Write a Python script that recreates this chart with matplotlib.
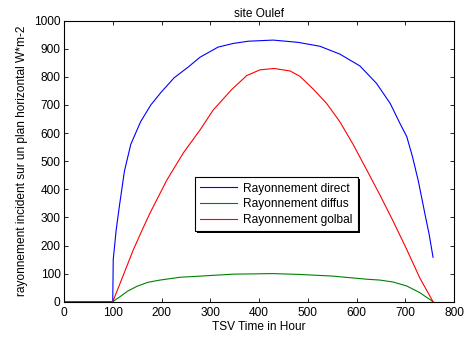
import matplotlib
matplotlib.use("Agg")
import matplotlib.pyplot as plt
from matplotlib.patches import Rectangle
from matplotlib.transforms import IdentityTransform

plt.rcParams['font.family'] = ['Liberation Sans', 'DejaVu Sans']

# Hourly radiation curves (TSV time vs W*m-2)
t_direct = [0, 100, 101, 107, 114, 124, 137, 157, 178, 199, 226, 254, 279, 316,
            347, 378, 429, 480, 525, 566, 607, 641, 669, 689, 703, 715, 727,
            741, 749, 757]
direct = [0, 0, 150, 255, 345, 465, 560, 640, 700, 745, 797, 834, 870, 906,
          919, 927, 931, 923, 909, 881, 839, 777, 706, 635, 588, 515, 428,
          307, 240, 158]

t_diffus = [0, 100, 115, 131, 150, 172, 197, 238, 279, 347, 429, 484, 552, 621,
            648, 675, 703, 730, 757]
diffus = [0, 0, 18, 38, 55, 69, 77, 87, 91, 98, 100, 97, 91, 80, 77, 70, 56,
          32, 0]

t_global = [0, 100, 115, 142, 159, 176, 211, 245, 279, 306, 344, 375, 402, 431,
            464, 484, 511, 539, 566, 593, 621, 648, 675, 703, 730, 757]
globale = [0, 0, 65, 184, 250, 314, 433, 530, 611, 682, 755, 805, 825, 830,
           821, 802, 757, 705, 640, 560, 469, 380, 287, 186, 84, 0]

series_labels = ['Rayonnement direct', 'Rayonnement diffus', 'Rayonnement golbal']
x_ticks = list(range(0, 801, 100))
y_ticks = list(range(0, 1001, 100))

fs = 8.6
fig = plt.figure(figsize=(4.67, 3.38), dpi=100)
ax = fig.add_axes([64 / 467, 1 - 301.7 / 338, 390 / 467, 281 / 338])

lw = 0.8
ax.plot(t_direct, direct, color=(0, 0, 1), lw=lw, label=series_labels[0])
ax.plot(t_diffus, diffus, color=(0, 0.5, 0), lw=lw, label=series_labels[1])
ax.plot(t_global, globale, color=(1, 0, 0), lw=lw, label=series_labels[2])

ax.set_xlim(0, 800)
ax.set_ylim(0, 1000)
ax.set_xticks(x_ticks)
ax.set_yticks(y_ticks)
ax.tick_params(direction='in', top=True, right=True, labelsize=fs, length=3,
               width=0.6)
ax.tick_params(axis='x', pad=3.5)
ax.tick_params(axis='y', pad=2.5)
for s in ax.spines.values():
    s.set_linewidth(0.8)

ax.set_title('site Oulef', fontsize=fs, pad=3)
ax.set_xlabel('TSV Time in Hour', fontsize=fs, labelpad=2)
ax.set_ylabel('rayonnement incident sur un plan horizontal W*m-2', fontsize=fs,
              labelpad=4)

leg = ax.legend(loc='upper left', bbox_to_anchor=(0.336, 0.443), borderaxespad=0,
                fontsize=fs, frameon=True, fancybox=False, shadow=False,
                handlelength=3.1, handletextpad=0.5, labelspacing=0.3,
                borderpad=0.45)
leg.get_frame().set_edgecolor('black')
leg.get_frame().set_linewidth(0.8)
leg.get_frame().set_alpha(1)

# thin drop shadow under the legend box
fig.canvas.draw()
bb = leg.get_window_extent()
ax.add_patch(Rectangle((bb.x0 + 1.5, bb.y0 - 1.5), bb.width, bb.height,
                       transform=IdentityTransform(), facecolor='black',
                       edgecolor='none', zorder=4.9, clip_on=False))

fig.savefig('out.png', dpi=100)
